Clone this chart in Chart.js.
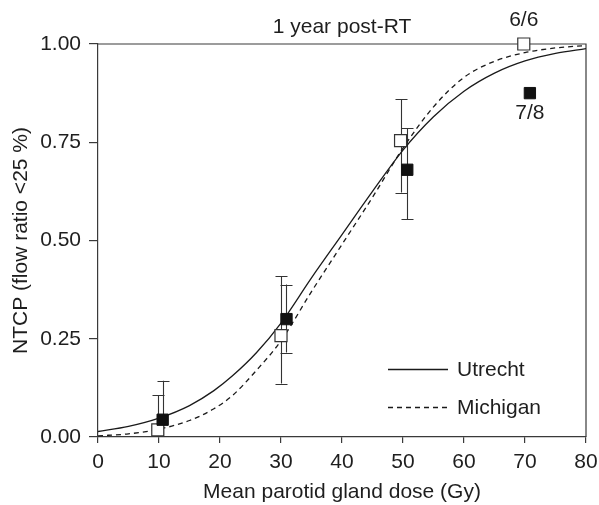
<!DOCTYPE html>
<html>
<head>
<meta charset="utf-8">
<script src="https://cdn.jsdelivr.net/npm/chart.js@4.4.1/dist/chart.umd.min.js"></script>
<style>
  html, body { margin: 0; padding: 0; background: #ffffff; }
  #wrap { width: 599px; height: 505px; }
</style>
</head>
<body>
<div id="wrap"><canvas id="c" width="599" height="505"></canvas></div>
<script>
// ---- data ----
const doseGrid = [0, 5, 10, 15, 19, 22, 26, 30, 35, 40, 45, 50, 55, 60, 65, 70, 75, 80];
const utrechtCurve = [0.014, 0.027, 0.048, 0.080, 0.118, 0.155, 0.215, 0.290, 0.405, 0.515, 0.625, 0.730, 0.815, 0.880, 0.926, 0.957, 0.976, 0.988];
const michiganCurve = [0.003, 0.008, 0.020, 0.042, 0.072, 0.105, 0.170, 0.245, 0.370, 0.490, 0.610, 0.735, 0.840, 0.915, 0.956, 0.978, 0.990, 0.996];

const openDose = [9.8, 30.0, 49.6, 69.8];
const openNTCP = [0.018, 0.258, 0.754, 1.000];
const openLow  = [0.002, 0.136, 0.622, null];
const openHigh = [0.106, 0.409, 0.859, null];
const openLabels = ['', '', '', '6/6'];

const filledDose = [10.6, 30.9, 50.7, 70.8];
const filledNTCP = [0.044, 0.300, 0.680, 0.875];
const filledLow  = [0.002, 0.215, 0.555, null];
const filledHigh = [0.143, 0.388, 0.786, null];
const filledLabels = ['', '', '', '7/8'];

const xTicks = [0, 10, 20, 30, 40, 50, 60, 70, 80];
const yTicks = [0, 0.25, 0.5, 0.75, 1.0];

const chartTitle = '1 year post-RT';
const xTitle = 'Mean parotid gland dose (Gy)';
const yTitle = 'NTCP (flow ratio <25 %)';
const legendNames = ['Utrecht', 'Michigan'];

// ---- styling ----
const FONT = '"Liberation Sans", Arial, Helvetica, sans-serif';
const FS = 21;
const TXT = '#1e1e1e';
const AX = '#3a3a3a';

const toXY = (xs, ys) => xs.map((x, i) => ({ x: x, y: ys[i] }));

const extras = {
  id: 'extras',
  beforeDatasetsDraw(chart) {
    const ctx = chart.ctx, a = chart.chartArea, xs = chart.scales.x, ys = chart.scales.y;
    ctx.save();
    // frame top & right (under the markers)
    ctx.strokeStyle = AX;
    ctx.lineWidth = 1.2;
    ctx.beginPath();
    ctx.moveTo(a.left, a.top); ctx.lineTo(a.right, a.top); ctx.lineTo(a.right, a.bottom);
    ctx.stroke();

    // error bars
    ctx.strokeStyle = '#333';
    ctx.lineWidth = 1.1;
    const bars = [[openDose, openLow, openHigh], [filledDose, filledLow, filledHigh]];
    bars.forEach(([dx, lo, hi]) => {
      dx.forEach((d, i) => {
        if (lo[i] == null || hi[i] == null) return;
        const px = Math.round(xs.getPixelForValue(d)) + 0.5;
        const y1 = ys.getPixelForValue(lo[i]), y2 = ys.getPixelForValue(hi[i]);
        ctx.beginPath();
        ctx.moveTo(px, y1); ctx.lineTo(px, y2);
        ctx.moveTo(px - 6, Math.round(y1) + 0.5); ctx.lineTo(px + 6, Math.round(y1) + 0.5);
        ctx.moveTo(px - 6, Math.round(y2) + 0.5); ctx.lineTo(px + 6, Math.round(y2) + 0.5);
        ctx.stroke();
      });
    });
    ctx.restore();
  },
  afterDraw(chart) {
    const ctx = chart.ctx, a = chart.chartArea, xs = chart.scales.x, ys = chart.scales.y;
    ctx.save();
    ctx.fillStyle = TXT;
    ctx.font = FS + 'px ' + FONT;
    ctx.textAlign = 'center';
    ctx.textBaseline = 'middle';
    ctx.fillText(chartTitle, (a.left + a.right) / 2, 27);
    ctx.fillText(xTitle, (a.left + a.right) / 2, 492);
    ctx.save();
    ctx.translate(21, (a.top + a.bottom) / 2);
    ctx.rotate(-Math.PI / 2);
    ctx.fillText(yTitle, 0, 0);
    ctx.restore();

    openLabels.forEach((t, i) => {
      if (!t) return;
      ctx.fillText(t, xs.getPixelForValue(openDose[i]), ys.getPixelForValue(openNTCP[i]) - 24);
    });
    filledLabels.forEach((t, i) => {
      if (!t) return;
      ctx.fillText(t, xs.getPixelForValue(filledDose[i]), ys.getPixelForValue(filledNTCP[i]) + 20);
    });

    // legend
    const lx1 = a.left + 290, lx2 = a.left + 350, tx = a.left + 359;
    const ly = [a.top + 325, a.top + 363];
    ctx.textAlign = 'left';
    [0, 1].forEach(k => {
      const ds = chart.data.datasets[k];
      ctx.strokeStyle = ds.borderColor;
      ctx.lineWidth = ds.borderWidth;
      ctx.setLineDash(ds.borderDash || []);
      ctx.beginPath();
      ctx.moveTo(lx1, ly[k] + 0.5); ctx.lineTo(lx2, ly[k] + 0.5);
      ctx.stroke();
      ctx.setLineDash([]);
      ctx.fillText(legendNames[k], tx, ly[k] + 1);
    });
    ctx.restore();
  }
};

new Chart(document.getElementById('c'), {
  type: 'scatter',
  data: {
    datasets: [
      {
        label: legendNames[0],
        data: toXY(doseGrid, utrechtCurve),
        showLine: true,
        borderColor: '#1a1a1a',
        borderWidth: 1.3,
        pointRadius: 0,
        cubicInterpolationMode: 'monotone',
        order: 3
      },
      {
        label: legendNames[1],
        data: toXY(doseGrid, michiganCurve),
        showLine: true,
        borderColor: '#1a1a1a',
        borderWidth: 1.3,
        borderDash: [5, 4],
        pointRadius: 0,
        cubicInterpolationMode: 'monotone',
        order: 2
      },
      {
        label: 'open',
        data: toXY(openDose, openNTCP),
        pointStyle: 'rect',
        pointRadius: 8.5,
        backgroundColor: '#ffffff',
        borderColor: '#333333',
        borderWidth: 1.2,
        clip: false,
        order: 1
      },
      {
        label: 'filled',
        data: toXY(filledDose, filledNTCP),
        pointStyle: 'rect',
        pointRadius: 8,
        backgroundColor: '#111111',
        borderColor: '#111111',
        borderWidth: 1,
        clip: false,
        order: 0
      }
    ]
  },
  options: {
    responsive: false,
    animation: false,
    devicePixelRatio: 1,
    layout: { padding: { top: 44, right: 13, left: 0, bottom: 0 } },
    plugins: { legend: { display: false }, title: { display: false }, tooltip: { enabled: false } },
    scales: {
      x: {
        type: 'linear', min: 0, max: 80,
        afterFit(s) { s.height = 68; s.paddingLeft = 0; s.paddingRight = 0; },
        afterBuildTicks(s) { s.ticks = xTicks.map(v => ({ value: v })); },
        ticks: { color: TXT, font: { size: FS, family: FONT }, padding: 7, maxRotation: 0 },
        grid: { drawOnChartArea: false, drawTicks: true, tickLength: 6, color: AX, lineWidth: 1.2 },
        border: { display: true, color: AX, width: 1.2 }
      },
      y: {
        type: 'linear', min: 0, max: 1,
        afterFit(s) { s.width = 98; s.paddingTop = 0; s.paddingBottom = 0; },
        afterBuildTicks(s) { s.ticks = yTicks.map(v => ({ value: v })); },
        ticks: { color: TXT, font: { size: FS, family: FONT }, padding: 8, callback: v => Number(v).toFixed(2) },
        grid: { drawOnChartArea: false, drawTicks: true, tickLength: 9, color: AX, lineWidth: 1.2 },
        border: { display: true, color: AX, width: 1.2 }
      }
    }
  },
  plugins: [extras]
});
</script>
</body>
</html>
